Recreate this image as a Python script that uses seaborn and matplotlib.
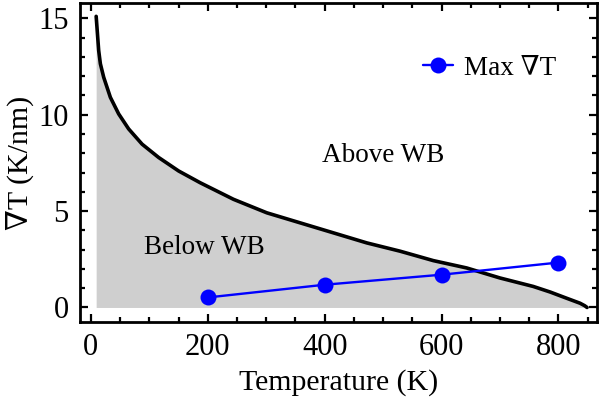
import numpy as np
import pandas as pd
import seaborn as sns
import matplotlib
matplotlib.use("Agg")
import matplotlib.pyplot as plt
from matplotlib.ticker import MultipleLocator

# boundary curve
temp_wb = [9, 13.3, 16.2, 21.9, 33.3, 47.5, 64.6, 87.6, 115.9, 150.1, 187,
           244, 301, 358, 415, 472, 529, 586, 643, 700, 757, 786, 814, 837,
           845, 849]
grad_wb = [15.1, 13.33, 12.64, 11.94, 10.9, 10.04, 9.26, 8.47, 7.78, 7.08,
           6.47, 5.61, 4.91, 4.39, 3.87, 3.35, 2.92, 2.43, 2.05, 1.53, 1.09,
           0.80, 0.48, 0.22, 0.09, 0.0]

# max gradient points
temp_max = [200, 400, 600, 800]
grad_max = [0.52, 1.18, 1.70, 2.33]

sns.set_style("ticks")
plt.rcParams['font.family'] = ['Liberation Serif', 'DejaVu Serif']
for k in ['text.color', 'axes.labelcolor', 'xtick.color', 'ytick.color']:
    plt.rcParams[k] = 'black'

fs = 19.5
fig, ax = plt.subplots(figsize=(6, 4.07), dpi=100)
fig.subplots_adjust(left=0.133, right=0.995, top=0.993, bottom=0.209)

wb = pd.DataFrame({'T': temp_wb, 'g': grad_wb})
mx = pd.DataFrame({'T': temp_max, 'g': grad_max})

ax.fill_between(wb['T'], 0, wb['g'], color='#cfcfcf', lw=0)
sns.lineplot(data=wb, x='T', y='g', color='black', lw=2.6, ax=ax, sort=False)
sns.lineplot(data=mx, x='T', y='g', color='#0000ff', lw=1.7, marker='o',
             markersize=11.5, markeredgewidth=0, ax=ax, label='Max \u2207T')

ax.text(500, 7.9, 'Above WB', fontsize=fs, ha='center', va='center')
ax.text(195, 3.1, 'Below WB', fontsize=fs, ha='center', va='center')

ax.set_xlim(-19, 866)
ax.set_ylim(-0.75, 15.8)
ax.xaxis.set_major_locator(MultipleLocator(200))
ax.xaxis.set_minor_locator(MultipleLocator(50))
ax.yaxis.set_major_locator(MultipleLocator(5))
ax.yaxis.set_minor_locator(MultipleLocator(1))
ax.tick_params(which='both', direction='in', top=True, right=True,
               labelsize=22, width=1.6)
ax.tick_params(which='major', length=6)
ax.tick_params(which='minor', length=3.5)
ax.tick_params(axis='x', which='major', pad=8)
ax.tick_params(axis='y', which='major', pad=8)
for s in ax.spines.values():
    s.set_linewidth(2)
    s.set_color('black')

ax.set_xlabel('Temperature (K)', fontsize=21.5, labelpad=5)
ax.set_ylabel('\u2207T (K/nm)', fontsize=21.5, labelpad=3)

ax.legend(loc='upper right', frameon=False, fontsize=19.5, handlelength=1.1,
          handletextpad=0.4, bbox_to_anchor=(0.968, 0.91))

plt.savefig('out.png', dpi=100)
